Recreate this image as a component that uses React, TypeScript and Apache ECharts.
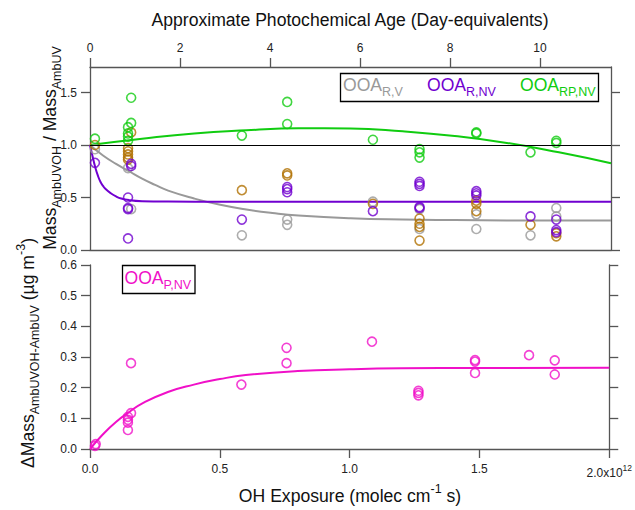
import React, { useEffect, useRef } from 'react';
import * as echarts from 'echarts';

const FONT = '"Liberation Sans", Arial, Helvetica, sans-serif';

// OH exposure in units of 1e12 molec cm^-3 s ; ratio values (top panel)
const ooaRV: [number, number][] = [
  [0.019, 0.96],
  [0.146, 0.78], [0.158, 0.39],
  [0.583, 0.14],
  [0.757, 0.29], [0.757, 0.24],
  [1.086, 0.46],
  [1.265, 0.39], [1.265, 0.2],
  [1.483, 0.34], [1.483, 0.2],
  [1.691, 0.14],
  [1.79, 0.4], [1.79, 0.32],
];

const ooaRNV: [number, number][] = [
  [0.019, 0.83],
  [0.158, 0.82], [0.158, 0.8],
  [0.146, 0.5], [0.146, 0.4], [0.146, 0.39], [0.146, 0.11],
  [0.583, 0.29],
  [0.757, 0.6], [0.757, 0.58], [0.757, 0.55],
  [1.086, 0.37],
  [1.265, 0.65], [1.265, 0.63], [1.265, 0.61], [1.265, 0.41], [1.265, 0.4],
  [1.483, 0.56], [1.483, 0.54], [1.483, 0.52],
  [1.691, 0.32],
  [1.79, 0.29], [1.79, 0.19], [1.79, 0.17],
];

const ooaRPNV: [number, number][] = [
  [0.019, 1.06],
  [0.158, 1.45], [0.158, 1.21],
  [0.146, 1.17], [0.146, 1.11], [0.146, 1.08], [0.146, 1.04],
  [0.583, 1.09],
  [0.757, 1.41], [0.757, 1.2],
  [1.086, 1.05],
  [1.265, 0.96], [1.265, 0.93], [1.265, 0.88],
  [1.483, 1.12], [1.483, 1.11],
  [1.691, 0.93],
  [1.79, 1.04], [1.79, 1.02],
];

const ooaOther: [number, number][] = [
  [0.019, 1.0],
  [0.158, 1.12],
  [0.146, 0.97], [0.146, 0.94], [0.146, 0.91], [0.146, 0.88], [0.146, 0.86],
  [0.583, 0.57],
  [0.757, 0.73], [0.757, 0.71],
  [1.086, 0.44],
  [1.265, 0.3], [1.265, 0.25], [1.265, 0.22], [1.265, 0.09],
  [1.483, 0.47], [1.483, 0.44], [1.483, 0.37],
  [1.691, 0.24],
  [1.79, 0.16], [1.79, 0.13],
];

// bottom panel: delta mass (ug m^-3)
const ooaPNV: [number, number][] = [
  [0.019, 0.01], [0.022, 0.016],
  [0.158, 0.28], [0.158, 0.117],
  [0.146, 0.105], [0.146, 0.095], [0.146, 0.086], [0.146, 0.062],
  [0.583, 0.21],
  [0.757, 0.33], [0.757, 0.28],
  [1.086, 0.35],
  [1.265, 0.19], [1.265, 0.183], [1.265, 0.175],
  [1.483, 0.29], [1.483, 0.285], [1.483, 0.248],
  [1.691, 0.306],
  [1.79, 0.289], [1.79, 0.243],
];

// fitted curves
const fitRV: [number, number][] = [
  [0, 1.0], [0.05, 0.9], [0.1, 0.82], [0.15, 0.75], [0.2, 0.68], [0.25, 0.62],
  [0.3, 0.565], [0.4, 0.49], [0.5, 0.43], [0.6, 0.385], [0.7, 0.352], [0.8, 0.328],
  [1.0, 0.302], [1.2, 0.29], [1.4, 0.285], [1.6, 0.282], [1.8, 0.281], [2.0, 0.28],
];
const fitRNV: [number, number][] = [
  [0, 1.0], [0.01, 0.89], [0.02, 0.79], [0.03, 0.71], [0.04, 0.65], [0.05, 0.61],
  [0.06, 0.58], [0.08, 0.54], [0.1, 0.51], [0.12, 0.49], [0.15, 0.475], [0.2, 0.465],
  [0.3, 0.461], [0.5, 0.46], [1.0, 0.46], [1.5, 0.46], [2.0, 0.46],
];
const fitRPNV: [number, number][] = [
  [0, 1.0], [0.2, 1.06], [0.4, 1.11], [0.6, 1.14], [0.8, 1.16], [1.0, 1.158],
  [1.2, 1.13], [1.4, 1.085], [1.6, 1.02], [1.8, 0.93], [2.0, 0.826],
];
const fitPNV: [number, number][] = [
  [0, 0], [0.05, 0.048], [0.1, 0.088], [0.15, 0.12], [0.2, 0.148], [0.3, 0.186],
  [0.4, 0.21], [0.5, 0.228], [0.6, 0.241], [0.8, 0.254], [1.0, 0.26], [1.2, 0.263],
  [1.5, 0.264], [2.0, 0.265],
];

const dayTicks = [0, 2, 4, 6, 8, 10];
const ratioTicks = [0, 0.5, 1.0, 1.5];

const C_GREY = '#999999';
const C_PURPLE = '#7000d0';
const C_GREEN = '#10cc10';
const C_BROWN = '#b07000';
const C_PINK = '#f010c8';

const AXIS = '#555555';
const LABEL = '#222222';

const mainTok = (fill: string) => ({ fontSize: 17.6, fontFamily: FONT, lineHeight: 27, fill, color: fill, verticalAlign: 'middle' });
const subTok = (fill: string) => ({ fontSize: 12.5, fontFamily: FONT, lineHeight: 12, fill, color: fill, verticalAlign: 'bottom' });
const supTok = (fill: string) => ({ fontSize: 12.5, fontFamily: FONT, lineHeight: 10, fill, color: fill, verticalAlign: 'top' });

const richText = (x: number, y: number, text: string, fill: string, align: string, rotation = 0) => ({
  type: 'text',
  x,
  y,
  rotation,
  z: 100,
  style: {
    text,
    fill,
    align,
    textAlign: align,
    verticalAlign: 'middle',
    textVerticalAlign: 'middle',
    fontFamily: FONT,
    fontSize: 17.6,
    rich: { m: mainTok(fill), s: subTok(fill), p: supTok(fill) },
  },
});

export default function App() {
  const ref = useRef<HTMLDivElement>(null);
  useEffect(() => {
    if (!ref.current) return;
    const chart = echarts.init(ref.current, undefined, { renderer: 'svg' });

    const axisLine = { show: true, onZero: false, lineStyle: { color: AXIS, width: 1.3 } };
    const tick = (customValues?: number[]) => ({
      show: true, inside: false, length: 9, lineStyle: { color: AXIS, width: 1.3 },
      ...(customValues ? { customValues } : {}),
    });
    const lbl = { color: LABEL, fontSize: 12, fontFamily: FONT };

    const scatter = (data: [number, number][], color: string, xi: number, yi: number) => ({
      type: 'scatter', data, xAxisIndex: xi, yAxisIndex: yi, symbol: 'circle', symbolSize: 9,
      itemStyle: { color: 'rgba(0,0,0,0)', borderColor: color, borderWidth: 1.6 }, z: 4,
    });
    const fit = (data: [number, number][], color: string, xi: number, yi: number, extra: any = {}) => ({
      type: 'line', data, xAxisIndex: xi, yAxisIndex: yi, showSymbol: false, symbol: 'none',
      smooth: 0.5, lineStyle: { color, width: 2 }, z: 3, ...extra,
    });

    const option: any = {
      animation: false,
      backgroundColor: '#ffffff',
      grid: [
        { left: 90, top: 67, width: 521, height: 183 },
        { left: 90, top: 265, width: 521, height: 184 },
      ],
      xAxis: [
        {
          gridIndex: 0, type: 'value', min: 0, max: 2, position: 'bottom',
          axisLine, axisTick: { show: false }, axisLabel: { show: false }, splitLine: { show: false },
        },
        {
          gridIndex: 0, type: 'value', min: 0, max: 521 / 45, position: 'top',
          axisLine, axisTick: tick(dayTicks),
          axisLabel: { ...lbl, margin: 13, customValues: dayTicks, formatter: (v: number) => String(v) },
          splitLine: { show: false },
        },
        {
          gridIndex: 1, type: 'value', min: 0, max: 2, interval: 0.5, position: 'bottom',
          axisLine, axisTick: tick(),
          axisLabel: {
            ...lbl, margin: 14,
            formatter: (v: number) => (Math.abs(v - 2) < 1e-9 ? '{a|2.0x10}{e|12}' : v.toFixed(1)),
            rich: {
              a: { fontSize: 12, fontFamily: FONT, color: LABEL, lineHeight: 16, verticalAlign: 'bottom' },
              e: { fontSize: 8.5, fontFamily: FONT, color: LABEL, lineHeight: 9, verticalAlign: 'top' },
            },
          },
          splitLine: { show: false },
        },
      ],
      yAxis: [
        {
          gridIndex: 0, type: 'value', min: 0, max: 183 / 105, position: 'left',
          axisLine, axisTick: tick(ratioTicks),
          axisLabel: { ...lbl, margin: 13, customValues: ratioTicks, formatter: (v: number) => v.toFixed(1) },
          splitLine: { show: false },
        },
        {
          gridIndex: 0, type: 'value', min: 0, max: 183 / 105, position: 'right',
          axisLine, axisTick: tick(ratioTicks), axisLabel: { show: false }, splitLine: { show: false },
        },
        {
          gridIndex: 1, type: 'value', min: 0, max: 0.6, interval: 0.1, position: 'left',
          axisLine, axisTick: tick(),
          axisLabel: { ...lbl, margin: 13, formatter: (v: number) => v.toFixed(1) },
          splitLine: { show: false },
        },
        {
          gridIndex: 1, type: 'value', min: 0, max: 0.6, interval: 0.1, position: 'right',
          axisLine, axisTick: tick(), axisLabel: { show: false }, splitLine: { show: false },
        },
      ],
      series: [
        fit(fitRV, C_GREY, 0, 0),
        fit(fitRNV, C_PURPLE, 0, 0),
        fit(fitRPNV, C_GREEN, 0, 0, {
          markLine: {
            silent: true, symbol: 'none', label: { show: false },
            lineStyle: { color: '#000000', width: 1.2, type: 'solid' },
            data: [{ yAxis: 1 }],
          },
        }),
        scatter(ooaRV, C_GREY, 0, 0),
        scatter(ooaOther, C_BROWN, 0, 0),
        scatter(ooaRNV, C_PURPLE, 0, 0),
        scatter(ooaRPNV, C_GREEN, 0, 0),
        fit(fitPNV, C_PINK, 2, 2),
        scatter(ooaPNV, C_PINK, 2, 2),
      ],
      graphic: [
        {
          type: 'text', x: 350, y: 20, z: 100,
          style: {
            text: 'Approximate Photochemical Age (Day-equivalents)', fill: '#111',
            align: 'center', textAlign: 'center', verticalAlign: 'middle', textVerticalAlign: 'middle',
            fontFamily: FONT, fontSize: 17.6,
          },
        },
        richText(350, 496, '{m|OH Exposure (molec cm}{p|-1}{m| s)}', '#111', 'center'),
        richText(50, 148, '{m|Mass}{s|AmbUVOH}{m| / Mass}{s|AmbUV}', '#111', 'center', Math.PI / 2),
        richText(28, 353, '{m|ΔMass}{s|AmbUVOH-AmbUV}{m| (µg m}{p|-3}{m|)}', '#111', 'center', Math.PI / 2),
        {
          type: 'rect', z: 90, shape: { x: 340.5, y: 73.5, width: 258, height: 28 },
          style: { fill: '#ffffff', stroke: '#000000', lineWidth: 1.3 },
        },
        richText(343, 85, '{m|OOA}{s|R,V}', C_GREY, 'left'),
        richText(427, 85, '{m|OOA}{s|R,NV}', C_PURPLE, 'left'),
        richText(520, 85, '{m|OOA}{s|RP,NV}', C_GREEN, 'left'),
        {
          type: 'rect', z: 90, shape: { x: 122.5, y: 265.5, width: 72.5, height: 28 },
          style: { fill: '#ffffff', stroke: '#000000', lineWidth: 1.3 },
        },
        richText(124.5, 277.5, '{m|OOA}{s|P,NV}', C_PINK, 'left'),
      ],
    };

    chart.setOption(option);
    return () => chart.dispose();
  }, []);

  return (
    <div
      ref={ref}
      style={{ position: 'fixed', left: 0, top: 0, width: 635, height: 510, background: '#fff' }}
    />
  );
}
